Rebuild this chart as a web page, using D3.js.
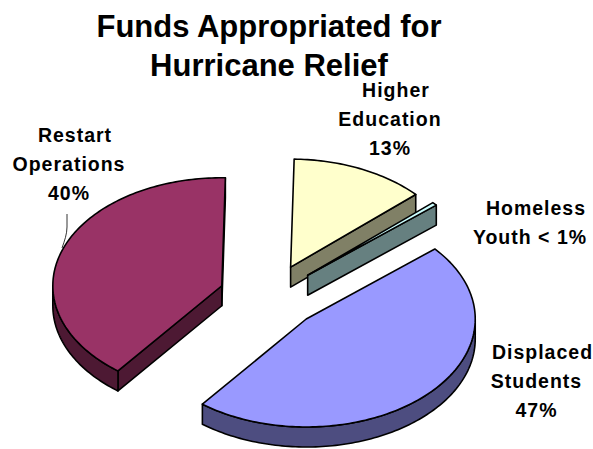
<!DOCTYPE html>
<html>
<head>
<meta charset="utf-8">
<title>Funds Appropriated for Hurricane Relief</title>
<script src="https://cdnjs.cloudflare.com/ajax/libs/d3/7.8.5/d3.min.js"></script>
<style>
  html, body { margin: 0; padding: 0; background: #fff; }
  svg { display: block; }
  text { font-family: "Liberation Sans", Arial, sans-serif; font-weight: bold; fill: #000; }
</style>
</head>
<body>
<svg id="chart" width="593" height="449"></svg>
<script>
// Slice data, clockwise from the top of the pie
const categories = ["Higher Education", "Homeless Youth", "Displaced Students", "Restart Operations"];
const shares = [13, 0.5, 47, 40];
const topColors = ["#FFFFCC", "#CCFFFF", "#9999FF", "#993366"];
const sideColors = ["#808066", "#668080", "#4D4D80", "#4D1933"];

// Text blocks
const titleLines = ["Funds Appropriated for", "Hurricane Relief"];
const labelLines = [
  ["Higher", "Education", "13%"],
  ["Homeless", "Youth < 1%"],
  ["Displaced", "Students", "47%"],
  ["Restart", "Operations", "40%"]
];
const labelCentres = [[390, 97], [530, 215], [536.5, 359], [69, 142]];
const firstLineShift = 6;

// Tilted-pie projection
const centre = { x: 269.6, y: 296.6 };
const radiusX = 169, radiusY = 108, depth = 20, explode = 0.3;
const startAngle = 1.2 * Math.PI / 180;

const svg = d3.select("#chart");

const pie = d3.pie().sort(null).value(d => d)
  .startAngle(startAngle).endAngle(startAngle + 2 * Math.PI);
const arcs = pie(shares);

const sx = d3.scaleLinear().domain([-1, 1]).range([centre.x - radiusX, centre.x + radiusX]);
const sy = d3.scaleLinear().domain([-1, 1]).range([centre.y - radiusY, centre.y + radiusY]);

// Position of a point at polar (angle, r) on a slice pushed out along its bisector
function project(a, r, mid, drop) {
  return [
    sx(explode * Math.sin(mid) + r * Math.sin(a)),
    sy(-explode * Math.cos(mid) - r * Math.cos(a)) + drop
  ];
}

const path = d3.line().curve(d3.curveLinear);
const samples = (a0, a1) => {
  const n = Math.max(2, Math.ceil((a1 - a0) / 0.02));
  return d3.range(n + 1).map(i => a0 + (a1 - a0) * i / n);
};

// Back-to-front: the rear slices are painted first
const paintOrder = [3, 0, 1, 2];

const slices = svg.append("g").selectAll("g")
  .data(paintOrder.map(i => ({ arc: arcs[i], top: topColors[i], side: sideColors[i], name: categories[i] })))
  .join("g")
  .attr("class", "slice")
  .attr("data-name", d => d.name);

const strokeStyle = sel => sel
  .attr("stroke", "#000")
  .attr("stroke-width", 1.6)
  .attr("stroke-linejoin", "round");

slices.each(function (d) {
  const g = d3.select(this);
  const a0 = d.arc.startAngle, a1 = d.arc.endAngle;
  const mid = (a0 + a1) / 2;

  // Radial walls, when they face the viewer
  const wall = a => path([
    project(a, 0, mid, 0), project(a, 1, mid, 0),
    project(a, 1, mid, depth), project(a, 0, mid, depth)
  ]) + "Z";
  if (Math.cos(a1 + Math.PI / 2) < 0) g.append("path").attr("d", wall(a1)).attr("fill", d.side).call(strokeStyle);
  if (Math.cos(a0 - Math.PI / 2) < 0) g.append("path").attr("d", wall(a0)).attr("fill", d.side).call(strokeStyle);

  // Outer rim, for the part of the arc on the near half of the ellipse
  const from = Math.max(a0, Math.PI / 2), to = Math.min(a1, 3 * Math.PI / 2);
  if (to > from) {
    const rim = samples(from, to);
    const pts = rim.map(a => project(a, 1, mid, 0))
      .concat(rim.slice().reverse().map(a => project(a, 1, mid, depth)));
    g.append("path").attr("d", path(pts) + "Z").attr("fill", d.side).call(strokeStyle);
  }

  // Top face
  const top = [project(a0, 0, mid, 0)].concat(samples(a0, a1).map(a => project(a, 1, mid, 0)));
  g.append("path").attr("d", path(top) + "Z").attr("fill", d.top).call(strokeStyle);
});

// Leader from the Restart Operations label to its slice
svg.append("path")
  .attr("d", d3.line().curve(d3.curveMonotoneY)([[67, 214], [67, 227], [62, 248]]))
  .attr("fill", "none")
  .attr("stroke", "#000")
  .attr("stroke-width", 0.8);

// Title
svg.append("g").selectAll("text")
  .data(titleLines)
  .join("text")
  .attr("x", 269)
  .attr("y", (d, i) => 37 + i * 39)
  .attr("text-anchor", "middle")
  .attr("font-size", 31)
  .text(d => d);

// Slice labels; the opening line of each block sits slightly right of the rest
svg.append("g").selectAll("g")
  .data(labelLines.map((lines, i) => ({ lines, at: labelCentres[i] })))
  .join("g")
  .each(function (d) {
    d3.select(this).selectAll("text")
      .data(d.lines)
      .join("text")
      .attr("x", (t, i) => d.at[0] + (i === 0 ? firstLineShift : 0))
      .attr("y", (t, i) => d.at[1] + i * 29)
      .attr("text-anchor", "middle")
      .attr("font-size", 19.5)
      .attr("letter-spacing", 1)
      .text(t => t);
  });
</script>
</body>
</html>
